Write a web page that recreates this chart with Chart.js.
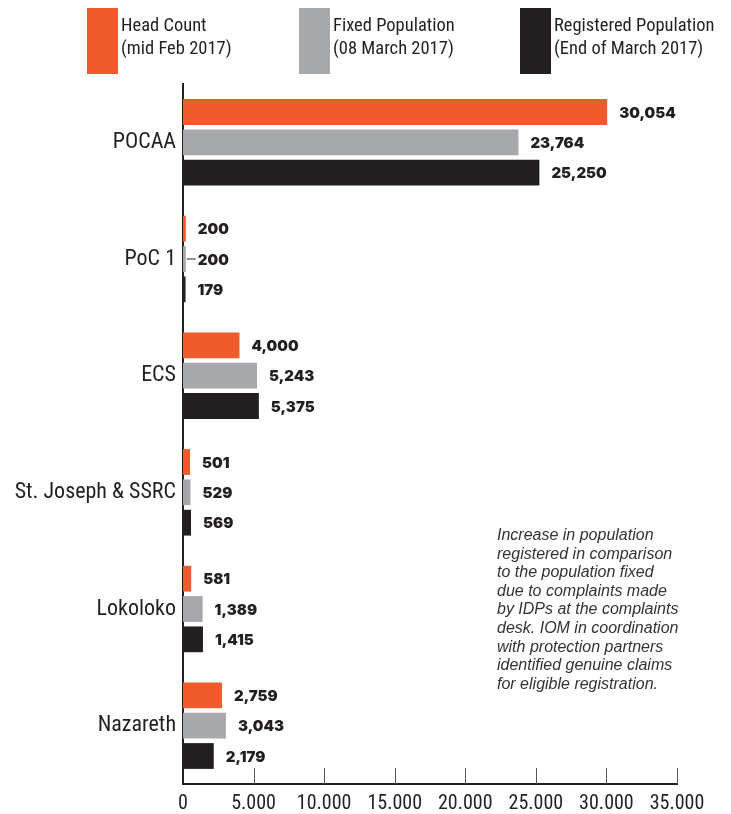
<!DOCTYPE html>
<html lang="en">
<head>
<meta charset="UTF-8">
<title>Population counts by site</title>
<script src="https://cdn.jsdelivr.net/npm/chart.js"></script>
<style>
  body { margin: 0; background: #fff; }
  #wrap { position: relative; width: 731px; height: 814px; }
  canvas { position: absolute; left: 0; top: 0; }
  .lg { position: absolute; top: 8px; height: 66px; }
  .lg .box { position: absolute; left: 0; top: 0; width: 31px; height: 66px; }
  .lg .txt { position: absolute; left: 34px; top: 6px; white-space: nowrap;
    font-family: "Liberation Sans Narrow", "Roboto Condensed", Roboto, sans-serif;
    font-size: 18.5px; line-height: 23px; color: #231f20; }
  #note { position: absolute; left: 497px; top: 526px; white-space: nowrap;
    font-family: "Liberation Sans", Arial, sans-serif; font-style: italic;
    font-size: 16px; line-height: 18.6px; color: #333; }
</style>
</head>
<body>
<div id="wrap">
  <canvas id="chart" width="731" height="814"></canvas>
  <div class="lg" style="left:87px"><div class="box" style="background:#ef5b2d"></div><div class="txt">Head Count<br>(mid Feb 2017)</div></div>
  <div class="lg" style="left:299px"><div class="box" style="background:#a6a8ab"></div><div class="txt">Fixed Population<br>(08 March 2017)</div></div>
  <div class="lg" style="left:520px"><div class="box" style="background:#231f20"></div><div class="txt">Registered Population<br>(End of March 2017)</div></div>
  <div id="note">Increase in population<br>registered in comparison<br>to the population fixed<br>due to complaints made<br>by IDPs at the complaints<br>desk. IOM in coordination<br>with protection partners<br>identified genuine claims<br>for eligible registration.</div>
</div>

<script>
const sites = ['POCAA', 'PoC 1', 'ECS', 'St. Joseph & SSRC', 'Lokoloko', 'Nazareth'];
const headCount = [30054, 200, 4000, 501, 581, 2759];
const fixedPop = [23764, 200, 5243, 529, 1389, 3043];
const registeredPop = [25250, 179, 5375, 569, 1415, 2179];
const xTicks = [0, 5000, 10000, 15000, 20000, 25000, 30000, 35000];

const condensed = '"Liberation Sans Narrow", "Roboto Condensed", Roboto, sans-serif';
const ink = '#231f20';

// value labels next to each bar, plus upward tick marks on the x axis
const extras = {
  id: 'extras',
  afterDatasetsDraw(chart) {
    const ctx = chart.ctx;
    ctx.save();
    ctx.font = '900 15px Inter, "DejaVu Sans", sans-serif';
    ctx.fillStyle = ink;
    ctx.textBaseline = 'middle';
    chart.data.datasets.forEach((ds, di) => {
      chart.getDatasetMeta(di).data.forEach((bar, i) => {
        const txt = ds.data[i].toLocaleString('en-US');
        if (di === 1 && i === 1) {
          // little leader line for the tiny PoC 1 bar
          ctx.strokeStyle = ink;
          ctx.lineWidth = 1;
          ctx.beginPath();
          ctx.moveTo(bar.x + 1, bar.y);
          ctx.lineTo(bar.x + 10, bar.y);
          ctx.stroke();
        }
        ctx.fillText(txt, bar.x + 12, bar.y + 1);
      });
    });
    const xs = chart.scales.x;
    const bottom = chart.chartArea.bottom;
    ctx.strokeStyle = '#555';
    ctx.lineWidth = 1;
    xTicks.forEach(v => {
      if (v === 0) return;
      const px = Math.round(xs.getPixelForValue(v)) + 0.5;
      ctx.beginPath();
      ctx.moveTo(px, bottom);
      ctx.lineTo(px, bottom - 16);
      ctx.stroke();
    });
    ctx.restore();
  }
};

new Chart(document.getElementById('chart'), {
  type: 'bar',
  data: {
    labels: sites,
    datasets: [
      { label: 'Head Count (mid Feb 2017)', data: headCount, backgroundColor: '#ef5b2d' },
      { label: 'Fixed Population (08 March 2017)', data: fixedPop, backgroundColor: '#a6a8ab' },
      { label: 'Registered Population (End of March 2017)', data: registeredPop, backgroundColor: ink }
    ]
  },
  options: {
    indexAxis: 'y',
    responsive: false,
    animation: false,
    categoryPercentage: 0.78,
    barPercentage: 0.85,
    layout: { padding: { top: 84, right: 54, left: 0, bottom: 0 } },
    plugins: { legend: { display: false }, tooltip: { enabled: false } },
    scales: {
      x: {
        min: 0,
        max: 35000,
        afterBuildTicks(scale) { scale.ticks = xTicks.map(v => ({ value: v })); },
        afterFit(scale) { scale.height = 30; },
        grid: { display: false, drawTicks: false },
        border: { display: true, color: ink, width: 2 },
        ticks: {
          padding: 8,
          color: ink,
          font: { family: condensed, size: 20 },
          callback: v => v === 0 ? '0' : v.toLocaleString('en-US').replace(',', '.')
        }
      },
      y: {
        afterFit(scale) { scale.width = 183; },
        grid: { display: false, drawTicks: false },
        border: { display: true, color: ink, width: 2 },
        ticks: { padding: 7, color: ink, font: { family: condensed, size: 22 } }
      }
    }
  },
  plugins: [extras]
});
</script>
</body>
</html>
